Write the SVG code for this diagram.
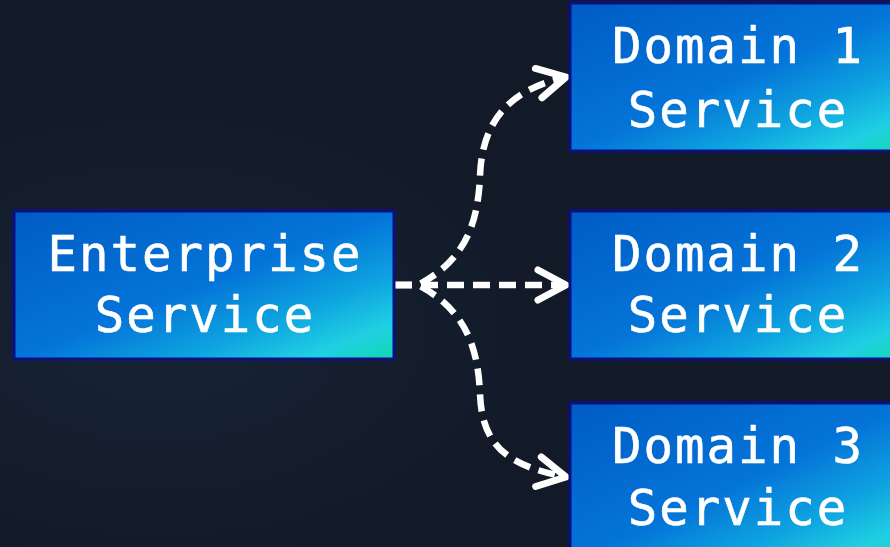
<svg xmlns="http://www.w3.org/2000/svg" width="890" height="547" viewBox="0 0 890 547">
<defs>
<linearGradient id="boxGrad" x1="0" y1="0" x2="1" y2="1">
<stop offset="0" stop-color="#005cc4"/>
<stop offset="0.5" stop-color="#0474d8"/>
<stop offset="0.72" stop-color="#0ea4e0"/>
<stop offset="0.88" stop-color="#20d0e2"/>
<stop offset="1" stop-color="#10d8b0"/>
</linearGradient>
<radialGradient id="bgGlow" cx="0.18" cy="0.6" r="0.45">
<stop offset="0" stop-color="#172334"/>
<stop offset="1" stop-color="#121a28"/>
</radialGradient>
<marker id="chev" markerUnits="userSpaceOnUse" markerWidth="46" markerHeight="46" viewBox="-38 -23 46 46" refX="0" refY="0" orient="auto">
<path d="M -28 -15 L 0 0 L -28 15" fill="none" stroke="#ffffff" stroke-width="7" stroke-linecap="round" stroke-linejoin="round" stroke-dasharray="none"/>
</marker>
<style>
.box{fill:url(#boxGrad);stroke:#0a0f84;stroke-width:3}
.lbl{font-family:"DejaVu Sans Mono","Liberation Mono",monospace;font-size:49px;fill:#ffffff;text-anchor:middle;letter-spacing:2px;stroke:#ffffff;stroke-width:0.6}
.conn{fill:none;stroke:#ffffff;stroke-width:6.5;stroke-dasharray:17 9;marker-end:url(#chev)}
</style>
</defs>
<rect x="0" y="0" width="890" height="547" fill="url(#bgGlow)"/>
<g id="connectors">
<path class="conn" d="M 395 285 L 418 285 C 462 262, 478 228, 480 176 C 482 122, 508 90, 566 77"/>
<path class="conn" d="M 395 285 L 566 285"/>
<path class="conn" d="M 395 285 L 418 285 C 462 308, 478 342, 480 394 C 482 446, 508 466, 566 477"/>
</g>
<g id="enterprise">
<rect class="box" x="14" y="211" width="380" height="148"/>
<text class="lbl" x="205" y="271">Enterprise</text>
<text class="lbl" x="205" y="332">Service</text>
</g>
<g id="domain1">
<rect class="box" x="570" y="3" width="340" height="148"/>
<text class="lbl" x="738" y="63">Domain 1</text>
<text class="lbl" x="738" y="127">Service</text>
</g>
<g id="domain2">
<rect class="box" x="570" y="211" width="340" height="148"/>
<text class="lbl" x="738" y="271">Domain 2</text>
<text class="lbl" x="738" y="332">Service</text>
</g>
<g id="domain3">
<rect class="box" x="570" y="403" width="340" height="160"/>
<text class="lbl" x="738" y="463">Domain 3</text>
<text class="lbl" x="738" y="525">Service</text>
</g>
</svg>
